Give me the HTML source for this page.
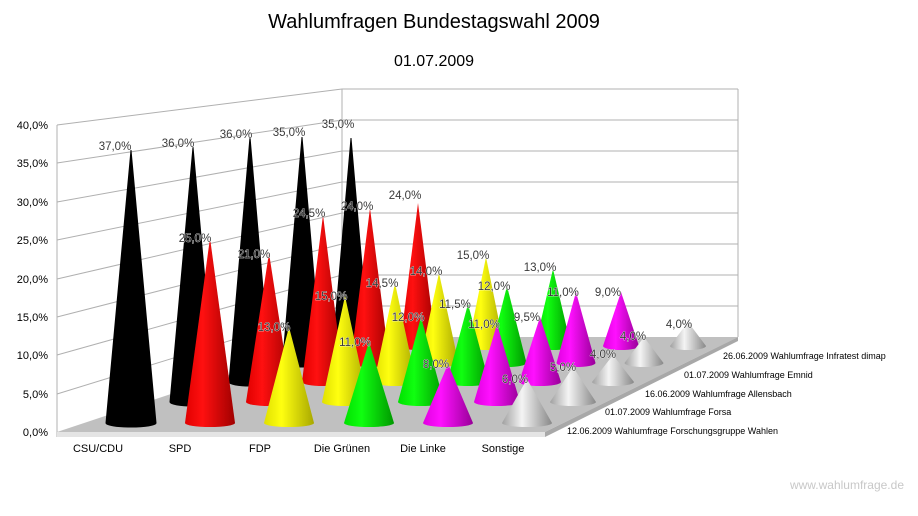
<!DOCTYPE html>
<html><head><meta charset="utf-8"><style>
html,body{margin:0;padding:0;background:#fff}
svg{display:block;font-family:"Liberation Sans",sans-serif}
.l{font-size:11.5px;fill:#3a3a3a;stroke:#fff;stroke-width:0.6;paint-order:stroke;text-anchor:middle}
.s{font-size:9px;fill:#000}
.c{font-size:11px;fill:#000;text-anchor:middle}
.y{font-size:11px;fill:#000;text-anchor:end}
</style></head><body>
<svg width="918" height="516" viewBox="0 0 918 516">
<defs>
<linearGradient id="gk"><stop offset="0" stop-color="#000"/><stop offset="1" stop-color="#000"/></linearGradient>
<linearGradient id="gr"><stop offset="0" stop-color="#e00000"/><stop offset="0.35" stop-color="#ff1010"/><stop offset="1" stop-color="#a00000"/></linearGradient>
<linearGradient id="gy"><stop offset="0" stop-color="#e0e000"/><stop offset="0.35" stop-color="#ffff10"/><stop offset="1" stop-color="#a8a800"/></linearGradient>
<linearGradient id="gg"><stop offset="0" stop-color="#00e000"/><stop offset="0.35" stop-color="#10ff10"/><stop offset="1" stop-color="#009800"/></linearGradient>
<linearGradient id="gm"><stop offset="0" stop-color="#e000e0"/><stop offset="0.35" stop-color="#ff10ff"/><stop offset="1" stop-color="#980098"/></linearGradient>
<linearGradient id="gw"><stop offset="0" stop-color="#a0a0a0"/><stop offset="0.4" stop-color="#f4f4f4"/><stop offset="1" stop-color="#888"/></linearGradient>
</defs>
<text x="434" y="28" font-size="20" text-anchor="middle">Wahlumfragen Bundestagswahl 2009</text>
<text x="434" y="66" font-size="16" text-anchor="middle">01.07.2009</text>
<g stroke="#b0b0b0" stroke-width="1" fill="none">
<line x1="57" y1="125" x2="342" y2="89"/><line x1="342" y1="89" x2="738" y2="89"/>
<line x1="57" y1="163" x2="342" y2="120"/><line x1="342" y1="120" x2="738" y2="120"/>
<line x1="57" y1="202" x2="342" y2="151"/><line x1="342" y1="151" x2="738" y2="151"/>
<line x1="57" y1="240" x2="342" y2="182"/><line x1="342" y1="182" x2="738" y2="182"/>
<line x1="57" y1="279" x2="342" y2="213"/><line x1="342" y1="213" x2="738" y2="213"/>
<line x1="57" y1="317" x2="342" y2="244"/><line x1="342" y1="244" x2="738" y2="244"/>
<line x1="57" y1="355" x2="342" y2="275"/><line x1="342" y1="275" x2="738" y2="275"/>
<line x1="57" y1="394" x2="342" y2="306"/><line x1="342" y1="306" x2="738" y2="306"/>
<line x1="342" y1="89" x2="342" y2="337"/><line x1="738" y1="89" x2="738" y2="337"/>
<line x1="57" y1="125" x2="57" y2="437"/>
</g>
<polygon points="57,432 342,337 738,337 545,432" fill="#c0c0c0"/>
<polygon points="57,432 545,432 545,437 57,437" fill="#e4e4e4"/>
<polygon points="545,432 738,337 738,341 545,437" fill="#a8a8a8"/>
<g class="y">
<text x="48" y="129">40,0%</text><text x="48" y="167">35,0%</text><text x="48" y="206">30,0%</text>
<text x="48" y="244">25,0%</text><text x="48" y="283">20,0%</text><text x="48" y="321">15,0%</text>
<text x="48" y="359">10,0%</text><text x="48" y="398">5,0%</text><text x="48" y="436">0,0%</text>
</g>
<g stroke="#000" stroke-width="1">
<path d="M333,346L351,138L369,346A18,4 0 0 1 333,346Z" fill="url(#gk)"/>
<path d="M400,346L418,203L436,346A18,4 0 0 1 400,346Z" fill="url(#gr)" stroke-width="0"/>
<path d="M468,346L486,257L504,346A18,4 0 0 1 468,346Z" fill="url(#gy)" stroke-width="0"/>
<path d="M535,346L553,269L571,346A18,4 0 0 1 535,346Z" fill="url(#gg)" stroke-width="0"/>
<path d="M603,346L621,292L639,346A18,4 0 0 1 603,346Z" fill="url(#gm)" stroke-width="0"/>
<path d="M670,346L688,322L706,346A18,4 0 0 1 670,346Z" fill="url(#gw)" stroke-width="0"/>
<path d="M282.5,363L302,137L321.5,363A19.5,4 0 0 1 282.5,363Z" fill="url(#gk)"/>
<path d="M350.5,363L370,208L389.5,363A19.5,4 0 0 1 350.5,363Z" fill="url(#gr)" stroke-width="0"/>
<path d="M419.5,363L439,273L458.5,363A19.5,4 0 0 1 419.5,363Z" fill="url(#gy)" stroke-width="0"/>
<path d="M487.5,363L507,286L526.5,363A19.5,4 0 0 1 487.5,363Z" fill="url(#gg)" stroke-width="0"/>
<path d="M556.5,363L576,292L595.5,363A19.5,4 0 0 1 556.5,363Z" fill="url(#gm)" stroke-width="0"/>
<path d="M624.5,363L644,337L663.5,363A19.5,4 0 0 1 624.5,363Z" fill="url(#gw)" stroke-width="0"/>
<path d="M229,382L250,137L271,382A21,4 0 0 1 229,382Z" fill="url(#gk)"/>
<path d="M302,382L323,215L344,382A21,4 0 0 1 302,382Z" fill="url(#gr)" stroke-width="0"/>
<path d="M374,382L395,283L416,382A21,4 0 0 1 374,382Z" fill="url(#gy)" stroke-width="0"/>
<path d="M447,382L468,304L489,382A21,4 0 0 1 447,382Z" fill="url(#gg)" stroke-width="0"/>
<path d="M519,382L540,317L561,382A21,4 0 0 1 519,382Z" fill="url(#gm)" stroke-width="0"/>
<path d="M592,382L613,355L634,382A21,4 0 0 1 592,382Z" fill="url(#gw)" stroke-width="0"/>
<path d="M170,402L193,147L216,402A23,4 0 0 1 170,402Z" fill="url(#gk)"/>
<path d="M246,402L269,253L292,402A23,4 0 0 1 246,402Z" fill="url(#gr)" stroke-width="0"/>
<path d="M322,402L345,296L368,402A23,4 0 0 1 322,402Z" fill="url(#gy)" stroke-width="0"/>
<path d="M398,402L421,317L444,402A23,4 0 0 1 398,402Z" fill="url(#gg)" stroke-width="0"/>
<path d="M474,402L497,324L520,402A23,4 0 0 1 474,402Z" fill="url(#gm)" stroke-width="0"/>
<path d="M550,402L573,367L596,402A23,4 0 0 1 550,402Z" fill="url(#gw)" stroke-width="0"/>
<path d="M106,423L131,150L156,423A25,4 0 0 1 106,423Z" fill="url(#gk)"/>
<path d="M185,423L210,238L235,423A25,4 0 0 1 185,423Z" fill="url(#gr)" stroke-width="0"/>
<path d="M264,423L289,327L314,423A25,4 0 0 1 264,423Z" fill="url(#gy)" stroke-width="0"/>
<path d="M344,423L369,342L394,423A25,4 0 0 1 344,423Z" fill="url(#gg)" stroke-width="0"/>
<path d="M423,423L448,364L473,423A25,4 0 0 1 423,423Z" fill="url(#gm)" stroke-width="0"/>
<path d="M502,423L527,379L552,423A25,4 0 0 1 502,423Z" fill="url(#gw)" stroke-width="0"/>
</g>
<g class="l">
<text x="338" y="128">35,0%</text><text x="405" y="199">24,0%</text><text x="473" y="259">15,0%</text><text x="540" y="271">13,0%</text><text x="608" y="296">9,0%</text><text x="679" y="328">4,0%</text>
<text x="289" y="136">35,0%</text><text x="357" y="210">24,0%</text><text x="426" y="275">14,0%</text><text x="494" y="290">12,0%</text><text x="563" y="296">11,0%</text><text x="633" y="340">4,0%</text>
<text x="236" y="138">36,0%</text><text x="309" y="217">24,5%</text><text x="382" y="287">14,5%</text><text x="455" y="308">11,5%</text><text x="527" y="321">9,5%</text><text x="603" y="358">4,0%</text>
<text x="178" y="147">36,0%</text><text x="254" y="258">21,0%</text><text x="331" y="300">15,0%</text><text x="408" y="321">12,0%</text><text x="484" y="328">11,0%</text><text x="563" y="371">5,0%</text>
<text x="115" y="150">37,0%</text><text x="195" y="242">25,0%</text><text x="274" y="331">13,0%</text><text x="355" y="346">11,0%</text><text x="436" y="368">8,0%</text><text x="515" y="383">6,0%</text>
</g>
<g class="s">
<text x="723" y="359">26.06.2009 Wahlumfrage Infratest dimap</text>
<text x="684" y="378">01.07.2009 Wahlumfrage Emnid</text>
<text x="645" y="397">16.06.2009 Wahlumfrage Allensbach</text>
<text x="605" y="415">01.07.2009 Wahlumfrage Forsa</text>
<text x="567" y="434">12.06.2009 Wahlumfrage Forschungsgruppe Wahlen</text>
</g>
<g class="c">
<text x="98" y="452">CSU/CDU</text><text x="180" y="452">SPD</text><text x="260" y="452">FDP</text>
<text x="342" y="452">Die Grünen</text><text x="423" y="452">Die Linke</text><text x="503" y="452">Sonstige</text>
</g>
<text x="904" y="489" font-size="12" fill="#c8c8c8" text-anchor="end">www.wahlumfrage.de</text>
</svg>
</body></html>
